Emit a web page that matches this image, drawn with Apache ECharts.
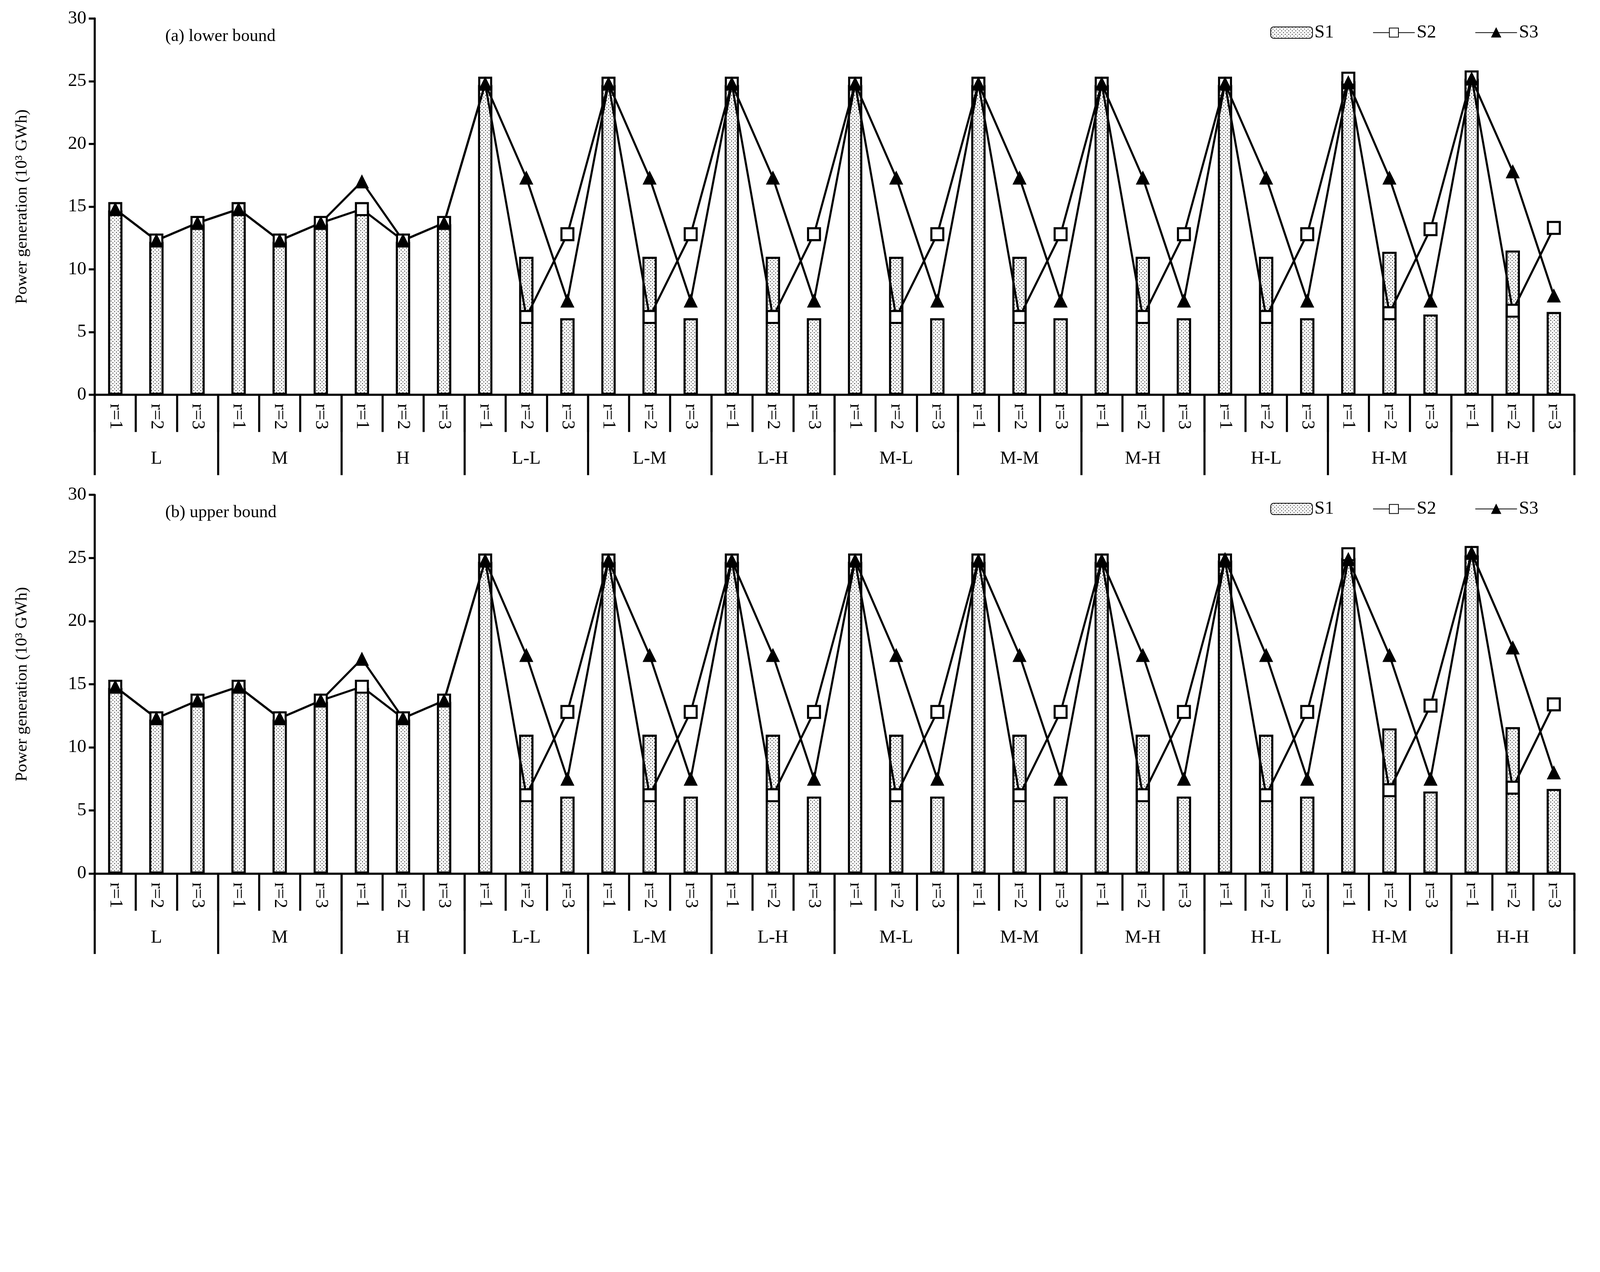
<!DOCTYPE html>
<html>
<head>
<meta charset="utf-8">
<script src="https://cdn.jsdelivr.net/npm/echarts@6/dist/echarts.min.js"></script>
<style>html,body{margin:0;padding:0;overflow:hidden;background:#fff}#main{width:100vw;height:100vh}</style>
</head>
<body>
<div id="main"></div>
<script>
var groups = ['L','M','H','L-L','L-M','L-H','M-L','M-M','M-H','H-L','H-M','H-H'];
var subs = ['r=1','r=2','r=3'];

// (a) lower bound
var lowS1 = [14.7,12.2,13.6, 14.7,12.2,13.6, 14.7,12.2,13.6,
  24.7,11.0,6.1, 24.7,11.0,6.1, 24.7,11.0,6.1, 24.7,11.0,6.1, 24.7,11.0,6.1, 24.7,11.0,6.1,
  24.7,11.0,6.1, 25.0,11.4,6.4, 25.2,11.5,6.6];
var lowS2 = [14.8,12.3,13.7, 14.8,12.3,13.7, 14.8,12.3,13.7,
  24.8,6.2,12.8, 24.8,6.2,12.8, 24.8,6.2,12.8, 24.8,6.2,12.8, 24.8,6.2,12.8, 24.8,6.2,12.8,
  24.8,6.2,12.8, 25.2,6.5,13.2, 25.3,6.7,13.3];
var lowS3 = [14.8,12.3,13.7, 14.8,12.3,13.7, 17.0,12.3,13.7,
  24.8,17.3,7.5, 24.8,17.3,7.5, 24.8,17.3,7.5, 24.8,17.3,7.5, 24.8,17.3,7.5, 24.8,17.3,7.5,
  24.8,17.3,7.5, 24.9,17.3,7.5, 25.2,17.8,7.9];

// (b) upper bound
var upS1 = [14.7,12.2,13.6, 14.7,12.2,13.6, 14.7,12.2,13.6,
  24.7,11.0,6.1, 24.7,11.0,6.1, 24.7,11.0,6.1, 24.7,11.0,6.1, 24.7,11.0,6.1, 24.7,11.0,6.1,
  24.8,11.0,6.1, 25.0,11.5,6.5, 25.2,11.6,6.7];
var upS2 = [14.8,12.3,13.7, 14.8,12.3,13.7, 14.8,12.3,13.7,
  24.8,6.2,12.8, 24.8,6.2,12.8, 24.8,6.2,12.8, 24.8,6.2,12.8, 24.8,6.2,12.8, 24.8,6.2,12.8,
  24.8,6.2,12.8, 25.3,6.6,13.3, 25.4,6.8,13.4];
var upS3 = [14.8,12.3,13.7, 14.8,12.3,13.7, 17.0,12.3,13.7,
  24.8,17.3,7.5, 24.8,17.3,7.5, 24.8,17.3,7.5, 24.8,17.3,7.5, 24.8,17.3,7.5, 24.8,17.3,7.5,
  24.9,17.3,7.5, 24.9,17.3,7.5, 25.4,17.9,8.0];

var cats = [];
for (var g = 0; g < groups.length; g++)
  for (var s = 0; s < subs.length; s++) cats.push(groups[g] + '|' + subs[s]);

var el = document.getElementById('main');
var k = Math.min(el.clientWidth / 5371, el.clientHeight / 3256);
function px(v){ return v * k; }

// dotted fill for bars
var n = Math.max(4, Math.round(px(12)));
var cv = document.createElement('canvas');
cv.width = n; cv.height = n;
var cx = cv.getContext('2d');
cx.fillStyle = '#fff'; cx.fillRect(0,0,n,n);
cx.fillStyle = '#000';
var d = Math.max(1, Math.round(n/4));
cx.fillRect(0,0,d,d); cx.fillRect(n/2,n/2,d,d);
var dots = {image: cv, repeat: 'repeat'};

var font = 'Liberation Serif';
var grids = [{left:px(318), right:px(86), top:px(62), height:px(1263)},
             {left:px(318), right:px(86), top:px(1661), height:px(1271)}];
var titles = ['(a) lower bound', '(b) upper bound'];
var sets = [[lowS1,lowS2,lowS3],[upS1,upS2,upS3]];

var xAxis = [], yAxis = [], series = [], legend = [], title = [];
for (var i = 0; i < 2; i++) {
  xAxis.push({
    type:'category', gridIndex:i, data:cats,
    axisLine:{show:true, lineStyle:{color:'#000', width:px(7)}},
    axisTick:{show:true, interval:0, length:px(125), lineStyle:{color:'#000', width:px(7)}},
    axisLabel:{interval:0, rotate:-90, margin:px(30), color:'#000', fontFamily:font, fontSize:px(62),
      formatter:function(v){ return v.split('|')[1]; }}
  });
  xAxis.push({
    type:'category', gridIndex:i, data:groups, position:'bottom',
    axisLine:{show:false},
    axisTick:{show:true, interval:0, length:px(270), lineStyle:{color:'#000', width:px(7)}},
    axisLabel:{interval:0, margin:px(185), color:'#000', fontFamily:font, fontSize:px(62)}
  });
  yAxis.push({
    type:'value', gridIndex:i, min:0, max:30, interval:5,
    name:'Power generation (10³ GWh)', nameLocation:'middle', nameGap:px(215),
    nameTextStyle:{color:'#000', fontFamily:font, fontSize:px(56)},
    axisLine:{show:true, lineStyle:{color:'#000', width:px(7)}},
    axisTick:{show:true, length:px(20), lineStyle:{color:'#000', width:px(7)}},
    axisLabel:{color:'#000', fontFamily:font, fontSize:px(62), margin:px(28)},
    splitLine:{show:false}
  });
  series.push({
    name:'S1', type:'bar', xAxisIndex:i*2, yAxisIndex:i, data:sets[i][0], barWidth:'35%',
    itemStyle:{color:dots, borderColor:'#000', borderWidth:px(7)}
  });
  series.push({
    name:'S2', type:'line', xAxisIndex:i*2, yAxisIndex:i, data:sets[i][1],
    symbol:'rect', symbolSize:px(40), showAllSymbol:true,
    lineStyle:{color:'#000', width:px(7)},
    itemStyle:{color:'#fff', borderColor:'#000', borderWidth:px(7)}
  });
  series.push({
    name:'S3', type:'line', xAxisIndex:i*2, yAxisIndex:i, data:sets[i][2],
    symbol:'triangle', symbolSize:px(44), showAllSymbol:true,
    lineStyle:{color:'#000', width:px(7)},
    itemStyle:{color:'#000', borderColor:'#000', borderWidth:px(2)}
  });
  legend.push({
    right:px(200), top:grids[i].top + px(10), itemWidth:px(140), itemHeight:px(38), itemGap:px(130),
    textStyle:{color:'#000', fontFamily:font, fontSize:px(62)},
    data:['S1','S2','S3']
  });
  title.push({
    text:titles[i], left:px(548), top:grids[i].top + px(25),
    textStyle:{color:'#000', fontFamily:font, fontSize:px(58), fontWeight:'normal'}
  });
}

var chart = echarts.init(el);
chart.setOption({
  animation:false, backgroundColor:'#fff',
  title:title, legend:legend, grid:grids,
  xAxis:xAxis, yAxis:yAxis, series:series
});
</script>
</body>
</html>
